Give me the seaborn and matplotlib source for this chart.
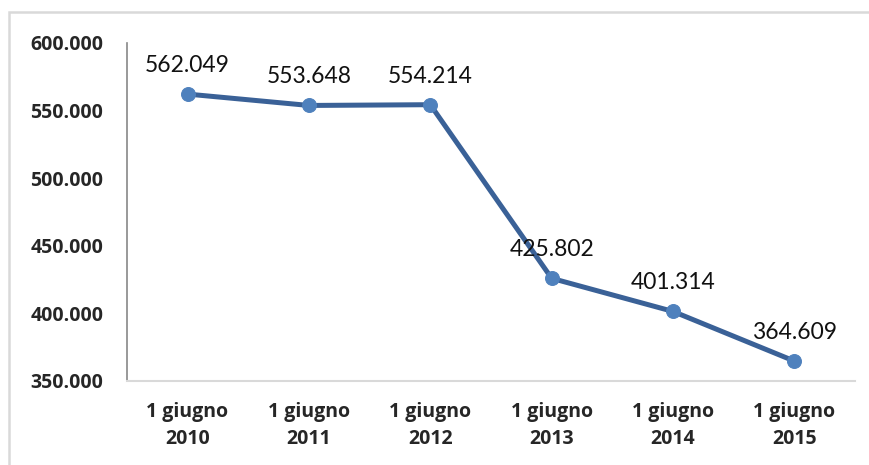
import matplotlib
matplotlib.use("Agg")
import matplotlib.pyplot as plt
from matplotlib.patches import Rectangle
import pandas as pd
import seaborn as sns

dates = ["1 giugno\n2010", "1 giugno\n2011", "1 giugno\n2012",
         "1 giugno\n2013", "1 giugno\n2014", "1 giugno\n2015"]
values = [562049, 553648, 554214, 425802, 401314, 364609]

LINE_COLOR = "#3A6197"
MARKER_COLOR = "#4F81BD"


def it_fmt(v):
    return f"{v:,.0f}".replace(",", ".")


sns.set_theme(style="white")
plt.rcParams["font.family"] = ["Lato", "DejaVu Sans"]
TICK_FONT = ["Open Sans", "DejaVu Sans"]

df = pd.DataFrame({"date": dates, "value": values})

fig = plt.figure(figsize=(8.69, 4.65), dpi=100)
ax = fig.add_axes([0.146, 0.181, 0.838, 0.727])

sns.lineplot(data=df, x="date", y="value", ax=ax, color=LINE_COLOR,
             linewidth=3.6, sort=False, marker="o", markersize=10,
             markerfacecolor=MARKER_COLOR, markeredgecolor=MARKER_COLOR)

for i, v in enumerate(values):
    ax.annotate(it_fmt(v), (i, v), xytext=(0, 13), textcoords="offset points",
                ha="center", va="bottom", fontsize=16.5, color="#111111")

ax.set_xlim(-0.5, len(dates) - 0.5)
ax.set_ylim(350000, 600000)
ax.set_yticks(range(350000, 600001, 50000))
ax.set_yticklabels([it_fmt(t) for t in range(350000, 600001, 50000)],
                   fontsize=14, fontweight="bold", family=TICK_FONT)
ax.set_xticks(range(len(dates)))
ax.set_xticklabels(dates, fontsize=14, fontweight="bold", family=TICK_FONT,
                   linespacing=1.5)
ax.tick_params(axis="y", length=0, pad=17)
ax.tick_params(axis="x", length=0, pad=15)
ax.set_xlabel("")
ax.set_ylabel("")

for s in ["top", "right"]:
    ax.spines[s].set_visible(False)
ax.spines["left"].set_color("#878787")
ax.spines["left"].set_linewidth(1.2)
ax.spines["bottom"].set_color("#D9D9D9")
ax.spines["bottom"].set_linewidth(1.5)

# outer chart frame
fig.patches.append(Rectangle((9 / 869, -0.1), 1.2, 1 - 12 / 465 + 0.1,
                             transform=fig.transFigure, fill=False,
                             edgecolor="#D9D9D9", linewidth=1.8))

fig.savefig("out.png", dpi=100)
